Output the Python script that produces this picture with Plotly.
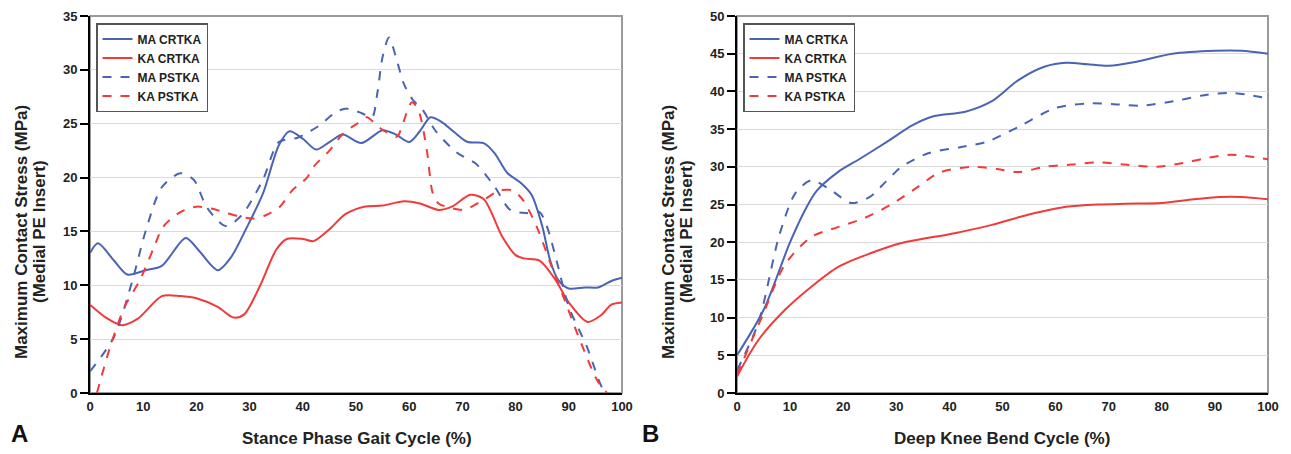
import plotly.graph_objects as go

# ---------------- Data (Panel A: Stance Phase Gait Cycle) ----------------
a_ma_cr_x = [0, 1.5, 4.5, 7, 10.5, 13.5, 18, 20.5, 24, 26.5, 29.5, 32.5, 35.5, 37.5, 40, 42.5, 45, 47.5,
             51, 55, 57.5, 60, 62, 64, 66, 68.5, 71, 74, 76, 78.5, 81, 83, 85, 86.5, 88, 90, 93, 95.5, 98, 100]
a_ma_cr_y = [13.0, 13.9, 12.3, 11.0, 11.4, 11.8, 14.4, 13.2, 11.4, 12.6, 15.4, 18.5, 23.0, 24.3, 23.6, 22.6,
             23.3, 24.0, 23.2, 24.4, 24.0, 23.3, 24.3, 25.6, 25.2, 24.2, 23.3, 23.2, 22.3, 20.4, 19.5, 18.4,
             15.5, 12.3, 10.5, 9.7, 9.8, 9.8, 10.4, 10.7]

a_ka_cr_x = [0, 3, 6, 9, 13.5, 17, 20, 24, 27, 29, 32, 35, 37, 40, 42, 45, 48, 51.5, 55, 59, 62, 65.5,
             68, 71.5, 74, 77.5, 80, 81.5, 84.5, 87.5, 90, 93.5, 96, 98, 100]
a_ka_cr_y = [8.2, 7.0, 6.3, 6.9, 9.0, 9.0, 8.8, 8.0, 7.0, 7.3, 10.0, 13.3, 14.3, 14.3, 14.1, 15.2, 16.6,
             17.3, 17.4, 17.8, 17.6, 17.0, 17.3, 18.4, 18.0, 14.5, 12.8, 12.5, 12.3, 10.5, 8.4, 6.6, 7.2,
             8.2, 8.4]

a_ma_ps_x = [0, 4.5, 8, 10.5, 13.5, 17, 19.5, 22, 25.5, 28.5, 32.5, 35.5, 39, 43, 46, 48, 51, 53, 54, 55,
             56.2, 57.5, 59, 60.7, 62.5, 65, 69, 72.5, 76, 79, 82, 84.5, 86, 87.8, 90, 93.4, 96.5, 97.5]
a_ma_ps_y = [2.0, 5.2, 10.5, 15.1, 19.1, 20.4, 19.8, 17.2, 15.5, 16.5, 19.8, 23.3, 23.7, 24.8, 26.0, 26.4,
             26.0, 25.6, 27.8, 31.2, 33.0, 31.2, 28.7, 27.2, 26.3, 24.3, 22.3, 21.3, 19.2, 17.0, 16.7, 16.8,
             15.3, 12.1, 8.0, 4.3, 0.3, 0.0]

a_ka_ps_x = [1.3, 3.8, 6.5, 9.4, 12, 13.7, 17, 20, 23, 25.7, 28, 30.7, 33, 35.7, 38, 40.8, 42, 45, 47.6,
             50.2, 52, 54.5, 57.7, 58.8, 60.5, 61.7, 63.3, 64.4, 65.5, 67, 70.2, 73.9, 77, 79.5, 81.4,
             84, 86.5, 89, 92.1, 95.3, 97.2]
a_ka_ps_y = [0.0, 4.3, 8.0, 10.5, 13.5, 15.4, 16.8, 17.3, 17.1, 16.7, 16.4, 16.2, 16.5, 17.3, 18.8, 20.0,
             21.0, 22.5, 24.1, 25.0, 25.6, 24.6, 23.8, 25.0, 27.0, 26.3, 22.6, 18.6, 17.6, 17.3, 17.0,
             17.9, 18.8, 18.8, 17.9, 15.4, 12.1, 8.9, 4.9, 1.2, 0.0]

# ---------------- Data (Panel B: Deep Knee Bend Cycle) ----------------
b_ma_cr_x = [0, 5, 10, 13, 15, 19, 23, 28, 33, 37, 43, 48, 53, 58, 62, 66, 70, 75, 82, 90, 95, 100]
b_ma_cr_y = [5.0, 11.0, 20.0, 24.5, 26.8, 29.3, 31.0, 33.2, 35.5, 36.7, 37.3, 38.7, 41.5, 43.3, 43.8,
             43.6, 43.4, 43.9, 45.0, 45.4, 45.4, 45.0]

b_ka_cr_x = [0, 4, 9, 14, 19, 25, 31, 41, 48, 53, 57, 62, 68, 73, 80, 86, 91, 95, 100]
b_ka_cr_y = [2.2, 7.0, 11.0, 14.1, 16.7, 18.5, 19.9, 21.2, 22.3, 23.3, 24.0, 24.7, 25.0, 25.1, 25.2,
             25.7, 26.0, 26.0, 25.7]

b_ma_ps_x = [0, 4, 8, 11, 14, 17.5, 21.5, 25, 28, 31, 36, 42, 47, 53, 60, 66, 71, 76, 83, 88, 93, 100]
b_ma_ps_y = [3.0, 9.3, 21.0, 26.5, 28.2, 27.0, 25.2, 26.0, 28.0, 30.0, 31.8, 32.6, 33.3, 35.3, 37.8,
             38.4, 38.3, 38.1, 38.8, 39.5, 39.8, 39.1]

b_ka_ps_x = [0, 5, 9, 14, 19, 24, 29, 34, 38, 44, 49, 53, 58, 63, 68, 73, 79, 84, 88, 93, 100]
b_ka_ps_y = [2.4, 10.6, 17.0, 20.7, 22.0, 23.2, 25.0, 27.3, 29.2, 30.0, 29.7, 29.3, 30.0, 30.3, 30.6,
             30.3, 30.0, 30.5, 31.1, 31.6, 31.0]

series_names = ["MA CRTKA", "KA CRTKA", "MA PSTKA", "KA PSTKA"]
x_ticks = [0, 10, 20, 30, 40, 50, 60, 70, 80, 90, 100]

# ---------------- Styling ----------------
BLUE = "#4A64B5"
RED = "#F23A3A"
FONT = "Liberation Sans, Arial, sans-serif"
W, H = 1291, 454

def px_x(p):
    return p / W

def px_y(p):
    return 1 - p / H

styles = [(BLUE, "solid"), (RED, "solid"), (BLUE, "dash"), (RED, "dash")]

fig = go.Figure()

panel_a = [(a_ma_cr_x, a_ma_cr_y), (a_ka_cr_x, a_ka_cr_y), (a_ma_ps_x, a_ma_ps_y), (a_ka_ps_x, a_ka_ps_y)]
panel_b = [(b_ma_cr_x, b_ma_cr_y), (b_ka_cr_x, b_ka_cr_y), (b_ma_ps_x, b_ma_ps_y), (b_ka_ps_x, b_ka_ps_y)]

for (xs, ys), name, (col, dash) in zip(panel_a, series_names, styles):
    fig.add_trace(go.Scatter(x=xs, y=ys, name=name, mode="lines",
                             line=dict(color=col, width=2, dash=dash, shape="spline", smoothing=0.8),
                             xaxis="x", yaxis="y", legend="legend"))
for (xs, ys), name, (col, dash) in zip(panel_b, series_names, styles):
    fig.add_trace(go.Scatter(x=xs, y=ys, name=name, mode="lines",
                             line=dict(color=col, width=2, dash=dash, shape="spline", smoothing=0.8),
                             xaxis="x2", yaxis="y2", legend="legend2"))

axis_common = dict(showline=True, linecolor="black", linewidth=2, zeroline=False, automargin=False,
                   tickfont=dict(family=FONT, size=13, color="#222", weight="bold"))

xa = dict(axis_common, range=[0, 100], tickvals=x_ticks, showgrid=False, ticks="", ticklen=0)
ya = dict(axis_common, showgrid=True, gridcolor="#DADADA", gridwidth=1, ticks="outside",
          ticklen=8, tickwidth=2, tickcolor="black", dtick=5)

legend_common = dict(xanchor="left", yanchor="top", bgcolor="white", bordercolor="#555", borderwidth=1.5,
                     font=dict(family=FONT, size=12, color="#222", weight="bold"),
                     itemwidth=30, tracegroupgap=0)

fig.update_layout(
    width=W, height=H,
    margin=dict(l=0, r=0, t=0, b=0, pad=0, autoexpand=False),
    paper_bgcolor="white", plot_bgcolor="white",
    font=dict(family=FONT, color="#222"),
    xaxis=dict(xa, domain=[px_x(90), px_x(622)], anchor="y"),
    yaxis=dict(ya, domain=[px_y(393), px_y(16)], range=[0, 35], anchor="x"),
    xaxis2=dict(xa, domain=[px_x(737), px_x(1268)], anchor="y2"),
    yaxis2=dict(ya, domain=[px_y(393), px_y(16)], range=[0, 50], anchor="x2"),
    legend=dict(legend_common, x=px_x(96), y=px_y(23)),
    legend2=dict(legend_common, x=px_x(743), y=px_y(23)),
    showlegend=True,
)

# gray frame (top/right) around each plot area
for xr, yr in [("x domain", "y domain"), ("x2 domain", "y2 domain")]:
    fig.add_shape(type="rect", xref=xr, yref=yr, x0=0, x1=1, y0=0, y1=1,
                  line=dict(color="#9A9A9A", width=2), layer="below")

title_font = dict(family=FONT, size=17, color="#222", weight="bold")
ann = []
for cx in (21, 668):
    ann.append(dict(text="Maximum Contact Stress (MPa)", x=px_x(cx), y=px_y(232), xref="paper", yref="paper",
                    textangle=-90, showarrow=False, font=title_font, xanchor="center", yanchor="middle"))
    ann.append(dict(text="(Medial PE Insert)", x=px_x(cx + 18), y=px_y(232), xref="paper", yref="paper",
                    textangle=-90, showarrow=False, font=title_font, xanchor="center", yanchor="middle"))
ann.append(dict(text="Stance Phase Gait Cycle (%)", x=px_x(357), y=px_y(438), xref="paper", yref="paper",
                showarrow=False, font=title_font, xanchor="center", yanchor="middle"))
ann.append(dict(text="Deep Knee Bend Cycle (%)", x=px_x(1002), y=px_y(438), xref="paper", yref="paper",
                showarrow=False, font=title_font, xanchor="center", yanchor="middle"))
panel_font = dict(family=FONT, size=24, color="#111", weight="bold")
ann.append(dict(text="A", x=px_x(19), y=px_y(433), xref="paper", yref="paper",
                showarrow=False, font=panel_font, xanchor="center", yanchor="middle"))
ann.append(dict(text="B", x=px_x(650), y=px_y(433), xref="paper", yref="paper",
                showarrow=False, font=panel_font, xanchor="center", yanchor="middle"))
fig.update_layout(annotations=ann)

fig.write_html("out.html", config={"displayModeBar": False},
               post_script="document.body.style.margin='0';")
